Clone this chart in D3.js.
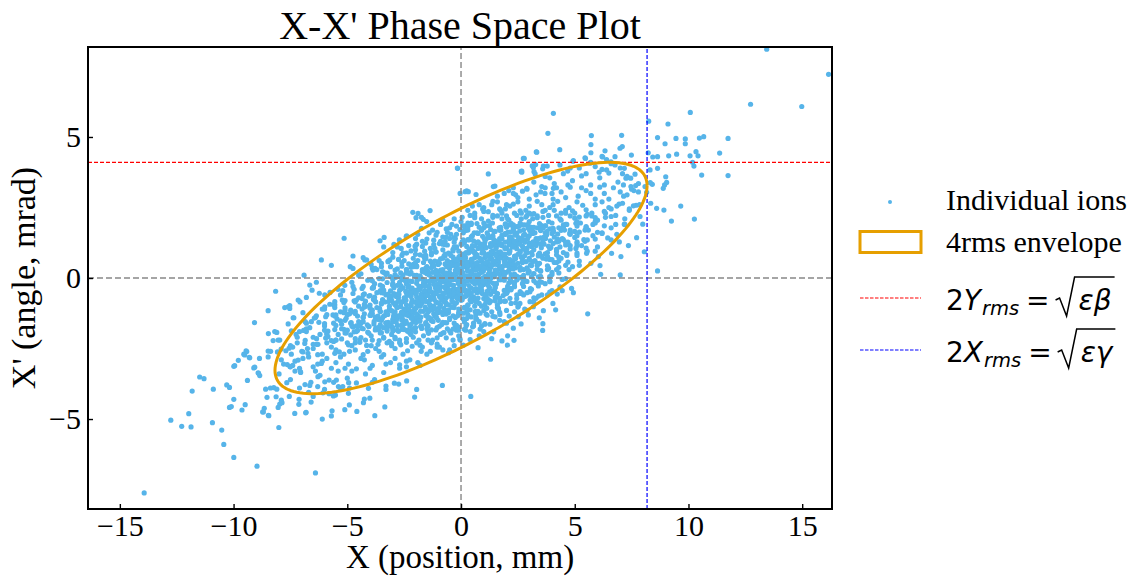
<!DOCTYPE html>
<html>
<head>
<meta charset="utf-8">
<script src="https://cdn.jsdelivr.net/npm/d3@7"></script>
<style>
  body { margin: 0; background: #fff; }
  svg { display: block; }
</style>
</head>
<body>
<div id="chart"></div>
<script>
// axis ranges and ticks
const xDomain = [-16.4, 16.31]
const yDomain = [-8.19, 8.19]
const xTicks = [-15, -10, -5, 0, 5, 10, 15]
const yTicks = [-5, 0, 5]

// beam (twiss) parameters of the 4rms envelope
const emittance = 20.2
const alphaT = -1.326
const betaT = 3.312

// ions: sparse halo / edges
const edgeIons = [
  [-13.93,-7.62],[-12.76,-5.04],[-12.28,-5.26],[-11.87,-5.28],[-11.97,-4.81],[-11.82,-4.01],[-11.49,-3.51],[-11.30,-3.57],[-10.89,-3.94],[-10.93,-5.13],
  [-10.52,-5.39],[-10.43,-5.90],[-9.99,-6.36],[-8.97,-6.67],[-6.40,-6.91],[-10.30,-3.79],[-10.18,-3.88],[-9.99,-4.30],[-10.18,-4.59],[-10.10,-4.56],
  [-9.99,-3.13],[-9.79,-2.92],[-9.55,-2.70],[-9.45,-2.58],[-9.29,-2.83],[-9.39,-3.63],[-9.63,-4.68],[-9.49,-4.49],[-9.11,-3.19],[-9.08,-1.58],
  [-8.92,-3.36],[-8.85,-3.46],[-8.86,-2.85],[-8.48,-1.16],[-8.47,-1.97],[-8.48,-2.59],[-8.53,-4.23],[-8.59,-3.94],[-8.65,-4.62],[-8.69,-4.75],
  [-8.47,-4.87],[-8.38,-3.90],[-8.23,-3.89],[-8.13,-4.21],[-8.10,-3.94],[-8.01,-5.30],[-8.04,-4.59],[-7.97,-4.47],[-7.90,-4.33],[-8.26,-2.22],
  [-8.10,-1.93],[-7.97,-2.20],[-7.91,-2.52],[-7.75,-1.05],[-7.53,-0.98],[-7.60,-1.63],[-7.35,-1.41],[-7.46,-2.70],[-7.56,-2.49],[-7.64,-3.07],
  [-7.52,-3.14],[-7.66,-3.71],[-7.55,-4.20],[-7.31,-4.80],[-7.12,-4.30],[-7.13,-4.48],[-6.81,-4.76],[-7.25,-2.00],[-7.16,-2.91],[-6.95,-1.23],
  [-6.92,-1.86],[-7.06,-3.32],[-6.86,-3.78],[-6.65,-3.81],[-6.73,-2.67],[-6.87,-2.32],[-6.58,-1.55],[-6.36,-1.34],[-6.29,-2.35],[-6.14,-3.03],
  [-6.29,-3.50],[-5.99,-3.68],[-6.10,-5.00],[-5.70,-4.89],[-5.67,-4.71],[-5.85,-2.08],[-5.55,-2.67],[-5.48,-3.62],[-5.99,-1.02],[-5.63,-1.31],
  [-5.52,-4.15],[-5.11,-4.67],[-4.91,-4.50],[-4.58,-4.73],[-3.79,-4.88],[-3.35,-4.57],[-4.29,-4.42],[-4.25,-4.29],[-4.01,-4.26],[-4.07,-3.91],
  [-2.04,-4.22],[-1.95,-3.95],[-0.82,-3.81],[-2.74,-3.76],[-2.39,-3.65],[-6.83,-4.78],[-6.59,-4.40],[-7.87,-4.42],[-8.45,-4.88],[-8.72,-4.75],
  [-6.07,-4.07],[-5.61,-4.18],[-5.39,-3.85],[-4.95,-4.09],[-5.20,-3.85],[-3.30,-3.83],[-3.30,-3.95],[-2.93,-3.73],[-4.94,-3.71],
  [13.44,8.11],[16.16,7.22],[12.73,6.16],[14.98,6.08],[10.08,5.87],[4.06,5.84],[3.82,5.13],[5.73,5.05],[7.06,5.06],[8.25,5.56],
  [9.10,5.46],[8.64,4.98],[9.45,4.95],[9.86,4.93],[9.86,4.76],[10.48,4.96],[10.67,5.01],[11.74,4.95],[8.97,4.76],[5.71,4.73],
  [6.33,4.51],[5.71,4.44],[6.99,4.60],[7.09,4.66],[4.34,4.55],[3.31,4.47],[2.78,4.24],[5.45,4.26],[6.23,4.29],[6.77,4.30],
  [7.49,4.36],[8.23,4.44],[8.43,4.29],[8.64,4.30],[9.13,4.33],[9.48,4.39],[10.07,4.33],[10.33,4.48],[10.42,4.33],[10.18,4.10],
  [10.24,3.97],[11.37,4.43],[10.58,3.65],[11.74,3.63],[4.92,4.14],[-0.16,3.90],[1.20,3.69],[1.49,3.26],[-0.04,3.00],[0.25,3.09],
  [8.31,3.83],[8.64,3.89],[9.00,3.59],[9.04,3.39],[8.95,3.30],[8.89,3.18],[8.41,3.32],[8.32,3.38],[2.65,3.78],[3.28,4.02],
  [3.62,3.97],[0.66,2.96],[8.16,3.04],[8.34,2.65],[8.60,2.47],[8.92,2.41],[9.66,2.55],[9.25,2.02],[10.26,2.09],[8.64,0.25],
  [8.06,0.93],[7.99,1.91],[7.72,1.43],[7.36,1.15],[7.03,0.76],[7.00,0.11],[6.14,0.13],[6.96,1.28],[6.62,0.87],[6.11,0.44],
  [5.71,0.52],[5.52,0.87],[6.04,0.76],[7.18,1.91],[7.87,2.18],[7.58,2.56],[7.85,2.60],[7.46,3.54],[7.65,3.68],[7.25,3.54],
  [7.14,3.30],[7.47,3.24],[7.68,3.28],[8.09,3.24],[4.94,4.16],[5.47,4.24],[6.20,4.31],[1.42,3.24],[2.67,3.79],[3.13,3.98],
  [3.21,3.77],[3.59,3.87],[3.79,3.97],[4.69,3.79],[4.35,4.01],[5.67,4.07],[6.40,3.83],[6.07,3.75],[6.59,4.12],[6.77,4.01],
  [7.18,3.89],[7.33,3.56],
  [0.43,-4.20],[1.30,-2.88],[0.75,-2.47],[2.04,-2.38],[1.80,-2.23],[2.33,-2.21],[2.05,-2.05],[1.35,-2.15],[1.44,-1.91],[2.30,-1.78],
  [2.64,-1.63],[3.59,-1.86],[3.60,-1.62],[3.44,-1.41],[5.57,-1.27],[4.16,-1.13],[4.04,-0.90],[3.62,-1.16],[2.96,-1.31],[2.52,-1.37],
  [2.12,-1.35],[1.71,-1.29],[0.22,-1.70],[0.51,-1.73],[0.84,-1.81],[1.05,-1.64],[1.27,-1.64],[0.10,-2.38],[-0.04,-2.20],[4.94,-0.52],
  [4.86,-0.37],[4.45,-0.45],[4.23,-0.57],[4.35,-0.31],[3.30,-0.72],[3.41,-0.64],[3.18,-1.02],[3.03,-0.84],[2.59,-0.90],[2.52,-0.99],
  [2.15,-0.72],[1.71,-0.84],[1.64,-1.07],[1.13,-1.07],[0.84,-1.25],[0.62,-1.19],[0.69,-1.46],[0.10,-1.25],[3.03,-0.49],[2.67,-0.54],
  [2.15,-0.37],[2.01,-0.54],[1.49,-0.49],[1.13,-0.72],[0.40,-0.78],[0.25,-0.54],[0.91,-0.43],[1.42,-0.19],[2.74,-0.13],[3.47,-0.13],
  [3.91,-0.13],
  [-5.14,1.41],[-6.14,0.64],[-5.70,0.45],[-6.90,0.10],[-8.15,-0.47],[-7.60,-1.02],[-7.53,-1.08],[-7.16,-0.78],[-7.08,-0.85],[-7.38,-1.41],
  [-7.46,-1.87],[-8.19,-1.90],[-8.04,-2.20],[-9.42,-2.61],[-9.51,-2.73],[-9.31,-2.81],[-9.95,-3.11],[-9.07,-3.16],[-8.90,-3.38],[-8.48,-2.80],
  [-8.37,-2.60],[-8.07,-2.62],[-4.75,0.78],[-4.87,0.40],[-4.75,0.34],[-6.65,-0.25],[-6.36,-0.15],[-6.55,-0.43],[-6.23,-0.54],[-5.99,-0.60],
  [-5.76,-0.51],[-5.41,-0.40],[-5.11,-0.26],[-6.80,-0.69],[-5.77,-0.93],[-5.55,-0.84],[-5.22,-0.78],[-4.23,0.64],[-3.87,0.28],[-3.50,0.40],
  [-3.21,0.58],[-3.56,1.32],[-3.38,1.44],[-2.95,1.19],[-2.63,1.05],[-2.41,1.47],[-1.89,2.29],[-1.74,2.15],[-1.36,2.39],[-1.74,1.76],
  [-2.55,0.88],[-3.13,0.64],
  [-0.15,3.89],[0.18,3.06],[0.32,3.06],[-2.12,2.33],[-1.98,2.14],[-1.66,2.08],[-1.51,2.00],[-2.71,1.35],[-2.39,1.49],[-2.02,1.13],
  [-4.15,0.64],[-3.78,0.34],[2.74,4.24],[3.33,4.46],[2.67,3.75],[3.18,3.92],[3.26,3.69],[2.30,3.00],[2.89,3.18],[3.55,3.24],
  [3.69,3.00],[4.06,3.18]
]

// ions in the core (estimated band by band)
const coreIons = [
  // x' ~ 0
  [-4.5,0.1],[-3.8,-0.2],[-3.1,0.05],[-2.7,-0.15],[-2.2,0.2],[-1.9,-0.05],[-1.5,0.15],[-1.2,-0.22],[-0.8,0.0],[-0.5,0.18],
  [-0.1,-0.12],[0.2,0.08],[0.6,-0.2],[0.9,0.22],[1.3,-0.03],[1.7,0.12],[2.1,-0.18],[2.6,0.02],[3.2,0.16],[3.9,-0.1],
  [-4.1,-0.08],[-3.4,0.2],[-2.9,0.12],[-2.4,-0.21],[-2.0,0.06],[-1.7,0.23],[-1.35,-0.1],[-1.0,0.12],[-0.65,-0.17],[-0.3,0.04],
  [0.05,0.21],[0.4,-0.07],[0.75,0.1],[1.1,-0.14],[1.5,0.2],[1.9,-0.01],[2.35,0.14],[2.9,-0.12],[3.5,0.06],[4.3,0.18],
  [-3.6,-0.02],[-3.0,-0.24],[-2.55,0.1],[-2.15,-0.12],[-1.8,0.03],[-1.45,0.24],[-1.1,0.07],[-0.85,-0.12],[-0.45,-0.24],[-0.2,0.15],
  [0.1,-0.18],[0.45,0.17],[0.8,-0.04],[1.2,0.14],[1.55,-0.2],[2.0,0.2],[2.45,-0.07],[3.0,0.23],[3.7,-0.2],[4.6,-0.02],
  [-4.8,-0.15],[-3.25,0.17],[-2.6,-0.05],[-2.25,0.14],[-1.6,-0.16],[-1.25,0.2],[-0.95,-0.06],[-0.6,0.1],[-0.35,-0.03],[0.0,-0.07],
  [0.3,0.24],[0.65,0.0],[1.0,-0.23],[1.4,0.08],[1.8,0.21],[2.2,-0.11],[2.75,0.09],[3.3,-0.17],[4.0,0.12],[0.5,-0.13],
  [-2.9,0.02],[-2.45,-0.1],[-2.05,0.09],[-1.7,-0.04],[-1.4,0.11],[-1.15,-0.08],[-0.9,0.05],[-0.7,-0.13],[-0.45,0.07],[-0.25,-0.05],
  [0.0,0.12],[0.2,-0.1],[0.4,0.03],[0.62,0.1],[0.85,-0.08],[1.05,0.06],[1.25,-0.12],[1.45,0.04],[1.68,-0.06],[1.9,0.1],
  [2.15,-0.03],[2.45,0.07],[2.8,-0.09],[-0.55,0.0],[0.95,0.0],
  // x' ~ 0.25
  [-3.3,0.12],[-2.8,0.32],[-2.4,0.2],[-2.1,0.4],[-1.8,0.08],[-1.55,0.28],[-1.3,0.36],[-1.1,0.15],[-0.9,0.24],[-0.7,0.05],
  [-0.5,0.38],[-0.32,0.12],[-0.15,0.32],[0.02,0.2],[0.2,0.4],[0.35,0.08],[0.5,0.28],[0.65,0.36],[0.8,0.15],[0.98,0.24],
  [1.15,0.05],[1.32,0.38],[1.5,0.12],[1.7,0.32],[1.9,0.2],[2.12,0.4],[2.35,0.08],[2.6,0.28],[2.9,0.36],[3.2,0.15],
  [3.5,0.24],[3.9,0.05],[4.3,0.38],[-0.2,0.22],[0.9,0.3],
  // x' ~ -0.25
  [3.2,-0.1],[2.75,-0.3],[2.35,-0.18],[2.05,-0.38],[1.75,-0.06],[1.5,-0.26],[1.25,-0.34],[1.05,-0.13],[0.85,-0.22],[0.65,-0.04],
  [0.45,-0.36],[0.28,-0.1],[0.1,-0.3],[-0.06,-0.18],[-0.24,-0.4],[-0.4,-0.07],[-0.55,-0.26],[-0.7,-0.35],[-0.86,-0.14],[-1.02,-0.22],
  [-1.2,-0.06],[-1.38,-0.37],[-1.55,-0.11],[-1.75,-0.3],[-1.95,-0.19],[-2.18,-0.39],[-2.4,-0.09],[-2.65,-0.27],[-2.95,-0.35],[-3.25,-0.16],
  [-3.55,-0.25],[-3.95,-0.06],[-4.35,-0.37],[0.15,-0.23],[-0.95,-0.32],
  // x' ~ 0.5
  [-3.9,0.35],[-3.2,0.6],[-2.6,0.42],[-2.1,0.7],[-1.7,0.3],[-1.3,0.55],[-0.9,0.68],[-0.5,0.33],[-0.15,0.5],[0.2,0.72],
  [0.55,0.38],[0.9,0.6],[1.25,0.27],[1.6,0.47],[2.0,0.7],[2.4,0.36],[2.85,0.58],[3.35,0.31],[3.9,0.66],[4.6,0.45],
  [-3.5,0.52],[-2.9,0.28],[-2.3,0.5],[-1.9,0.62],[-1.5,0.4],[-1.1,0.27],[-0.7,0.5],[-0.35,0.74],[0.0,0.3],[0.35,0.55],
  [0.7,0.45],[1.05,0.73],[1.4,0.55],[1.8,0.32],[2.2,0.57],[2.65,0.74],[3.1,0.44],[3.6,0.7],[4.2,0.3],[5.2,0.6],
  [-4.3,0.72],[-2.75,0.66],[-2.4,0.3],[-1.95,0.4],[-1.55,0.73],[-1.2,0.42],[-0.8,0.3],[-0.45,0.55],[-0.05,0.64],[0.3,0.4],
  [0.65,0.28],[1.0,0.5],[1.35,0.68],[1.7,0.37],[2.1,0.27],[2.5,0.52],[3.0,0.7],[3.5,0.26],[4.1,0.55],[4.9,0.4],
  [-3.7,0.3],[-3.0,0.74],[-1.35,0.6],[-1.0,0.48],[-0.6,0.62],[-0.25,0.27],[0.1,0.48],[0.45,0.66],[0.8,0.33],[1.15,0.4],
  [1.5,0.27],[1.9,0.62],[2.3,0.44],[2.75,0.3],[3.25,0.62],[3.8,0.43],[4.4,0.7],[0.15,0.6],
  [-2.1,0.48],[-1.65,0.55],[-1.25,0.45],[-0.95,0.52],[-0.65,0.44],[-0.4,0.56],[-0.15,0.46],[0.05,0.54],[0.28,0.47],[0.5,0.51],
  [0.72,0.55],[0.95,0.45],[1.18,0.53],[1.42,0.48],[1.65,0.56],[1.88,0.44],[2.1,0.51],[2.38,0.47],[2.7,0.55],[3.05,0.46],
  [3.45,0.52],[0.6,0.5],[1.55,0.5],[-0.3,0.5],[2.25,0.5],
  // x' ~ -0.5
  [-4.7,-0.4],[-4.0,-0.62],[-3.45,-0.3],[-2.95,-0.55],[-2.5,-0.7],[-2.15,-0.36],[-1.75,-0.58],[-1.4,-0.28],[-1.05,-0.48],[-0.7,-0.71],
  [-0.35,-0.4],[0.0,-0.6],[0.35,-0.27],[0.7,-0.52],[1.1,-0.66],[1.5,-0.34],[1.95,-0.5],[2.45,-0.73],[3.05,-0.38],[3.8,-0.6],
  [-5.3,-0.6],[-4.3,-0.3],[-3.7,-0.52],[-3.15,-0.72],[-2.7,-0.43],[-2.3,-0.27],[-1.95,-0.67],[-1.6,-0.45],[-1.2,-0.7],[-0.9,-0.31],
  [-0.5,-0.55],[-0.15,-0.74],[0.2,-0.45],[0.55,-0.67],[0.9,-0.3],[1.3,-0.58],[1.7,-0.72],[2.2,-0.42],[2.75,-0.6],[3.4,-0.28],
  [-4.5,-0.7],[-3.9,-0.36],[-3.3,-0.6],[-2.8,-0.26],[-2.4,-0.53],[-2.0,-0.44],[-1.65,-0.74],[-1.3,-0.5],[-0.95,-0.63],[-0.6,-0.29],
  [-0.25,-0.5],[0.1,-0.33],[0.45,-0.7],[0.8,-0.42],[1.2,-0.27],[1.6,-0.56],[2.05,-0.3],[2.6,-0.48],[3.2,-0.7],[4.0,-0.45],
  [-3.55,-0.45],[-2.85,-0.66],[-2.2,-0.6],[-1.85,-0.3],[-1.5,-0.62],[-1.1,-0.38],[-0.8,-0.56],[-0.4,-0.68],[-0.05,-0.28],[0.3,-0.58],
  [0.65,-0.38],[1.0,-0.73],[1.4,-0.46],[1.85,-0.62],[2.35,-0.28],[2.9,-0.52],[-0.6,-0.45],[-2.55,-0.35],
  [2.05,-0.48],[1.6,-0.55],[1.2,-0.45],[0.9,-0.52],[0.6,-0.44],[0.35,-0.56],[0.1,-0.46],[-0.1,-0.54],[-0.33,-0.47],[-0.55,-0.51],
  [-0.77,-0.55],[-1.0,-0.45],[-1.23,-0.53],[-1.47,-0.48],[-1.7,-0.56],[-1.93,-0.44],[-2.15,-0.51],[-2.43,-0.47],[-2.75,-0.55],[-3.1,-0.46],
  [-3.5,-0.52],[-0.65,-0.5],[-1.6,-0.5],[0.25,-0.5],[-2.3,-0.5],
  // x' ~ 0.75
  [-2.5,0.62],[-2.0,0.84],[-1.6,0.7],[-1.3,0.9],[-1.0,0.58],[-0.75,0.78],[-0.5,0.86],[-0.3,0.65],[-0.1,0.74],[0.1,0.56],
  [0.3,0.88],[0.48,0.62],[0.65,0.84],[0.82,0.7],[1.0,0.9],[1.15,0.58],[1.3,0.78],[1.45,0.86],[1.6,0.65],[1.78,0.74],
  [1.95,0.56],[2.12,0.88],[2.3,0.62],[2.5,0.84],[2.7,0.7],[2.92,0.9],[3.15,0.58],[3.4,0.78],[3.7,0.86],[4.0,0.65],
  [4.3,0.74],[4.7,0.56],[5.1,0.88],[0.6,0.72],[1.7,0.8],
  // x' ~ -0.75
  [2.45,-0.6],[1.95,-0.82],[1.55,-0.68],[1.25,-0.88],[0.95,-0.56],[0.7,-0.76],[0.45,-0.84],[0.25,-0.63],[0.05,-0.72],[-0.15,-0.54],
  [-0.35,-0.86],[-0.52,-0.6],[-0.7,-0.82],[-0.86,-0.68],[-1.04,-0.88],[-1.2,-0.57],[-1.35,-0.76],[-1.5,-0.84],[-1.65,-0.64],[-1.82,-0.73],
  [-2.0,-0.55],[-2.17,-0.87],[-2.35,-0.61],[-2.55,-0.83],[-2.75,-0.69],[-2.97,-0.89],[-3.2,-0.57],[-3.45,-0.77],[-3.75,-0.85],[-4.05,-0.64],
  [-4.35,-0.73],[-4.75,-0.55],[-5.15,-0.87],[-0.65,-0.7],[-1.75,-0.79],
  // x' ~ 1
  [-3.0,0.9],[-2.3,1.15],[-1.8,0.82],[-1.35,1.05],[-0.95,1.22],[-0.55,0.88],[-0.2,1.1],[0.15,0.78],[0.5,1.0],[0.85,1.2],
  [1.2,0.85],[1.55,1.08],[1.9,0.8],[2.25,1.17],[2.6,0.95],[3.0,1.24],[3.4,0.83],[3.9,1.05],[4.5,0.9],[5.3,1.15],
  [-2.6,0.8],[-2.0,1.0],[-1.55,1.24],[-1.1,0.92],[-0.7,0.78],[-0.35,1.02],[0.0,1.2],[0.35,0.9],[0.7,0.77],[1.05,1.13],
  [1.4,0.95],[1.75,1.22],[2.1,0.88],[2.45,1.04],[2.8,0.79],[3.2,1.0],[3.65,1.2],[4.2,0.82],[4.8,1.03],[5.9,0.95],
  [-2.2,0.96],[-1.65,0.78],[-1.2,1.18],[-0.8,1.0],[-0.45,0.8],[-0.1,0.95],[0.25,1.12],[0.6,0.87],[0.95,0.97],[1.3,1.22],
  [1.65,0.9],[2.0,1.05],[2.35,0.77],[2.7,1.13],[3.1,0.9],[3.55,0.77],[4.05,1.22],[4.7,1.2],[5.1,0.8],[1.8,1.15],
  [-3.4,1.1],[-1.95,1.2],[-0.6,1.17],[0.1,0.85],[0.75,1.05],[1.1,0.8],[1.5,1.15],[2.2,1.2],[2.9,1.05],[3.3,1.15],
  [3.8,0.9],[4.35,1.1],
  // x' ~ -1
  [-5.6,-0.95],[-4.8,-1.2],[-4.2,-0.82],[-3.7,-1.05],[-3.25,-1.22],[-2.85,-0.88],[-2.5,-1.1],[-2.15,-0.78],[-1.8,-1.0],[-1.45,-1.2],
  [-1.1,-0.85],[-0.75,-1.08],[-0.4,-0.8],[-0.05,-1.17],[0.3,-0.95],[0.7,-1.24],[1.1,-0.83],[1.6,-1.05],[2.2,-0.9],[2.9,-1.15],
  [-6.1,-1.1],[-5.1,-0.8],[-4.5,-1.0],[-3.95,-1.24],[-3.5,-0.92],[-3.05,-0.78],[-2.65,-1.02],[-2.3,-1.2],[-1.95,-0.9],[-1.6,-0.77],
  [-1.25,-1.13],[-0.9,-0.95],[-0.55,-1.22],[-0.2,-0.88],[0.15,-1.04],[0.5,-0.79],[0.9,-1.0],[1.35,-1.2],[1.9,-0.82],[2.5,-1.03],
  [-5.3,-1.2],[-4.6,-0.78],[-4.0,-0.96],[-3.55,-1.18],[-3.15,-1.0],[-2.75,-0.8],[-2.4,-0.95],[-2.05,-1.12],[-1.7,-0.87],[-1.35,-0.97],
  [-1.0,-1.22],[-0.65,-0.9],[-0.3,-1.05],[0.05,-0.77],[0.4,-1.13],[0.8,-0.9],[1.2,-0.77],[1.7,-1.22],[2.35,-1.2],[3.2,-0.85],
  [-4.35,-1.1],[-3.35,-0.85],[-2.2,-0.98],[-1.5,-1.1],[-0.85,-0.78],[-0.1,-1.1],[0.6,-1.0],[1.0,-1.15],[-2.9,-1.2],[-3.8,-0.8],
  [-1.2,-1.0],[0.25,-1.2],
  // x' ~ 1.25
  [-1.7,1.12],[-1.2,1.34],[-0.8,1.2],[-0.5,1.4],[-0.2,1.08],[0.05,1.28],[0.3,1.36],[0.5,1.15],[0.7,1.24],[0.9,1.06],
  [1.1,1.38],[1.28,1.12],[1.45,1.34],[1.62,1.2],[1.8,1.4],[1.95,1.08],[2.1,1.28],[2.25,1.36],[2.4,1.15],[2.58,1.24],
  [2.75,1.06],[2.92,1.38],[3.1,1.12],[3.3,1.34],[3.5,1.2],[3.72,1.4],[3.95,1.08],[4.2,1.28],[4.5,1.36],[4.8,1.15],
  [5.1,1.24],[5.5,1.06],[5.9,1.38],[1.4,1.22],[2.5,1.3],
  // x' ~ -1.25
  [1.65,-1.1],[1.15,-1.32],[0.75,-1.18],[0.45,-1.38],[0.15,-1.06],[-0.1,-1.26],[-0.35,-1.34],[-0.55,-1.13],[-0.75,-1.22],[-0.95,-1.05],
  [-1.15,-1.36],[-1.32,-1.1],[-1.5,-1.32],[-1.66,-1.18],[-1.84,-1.38],[-2.0,-1.07],[-2.15,-1.26],[-2.3,-1.34],[-2.45,-1.14],[-2.62,-1.23],
  [-2.8,-1.05],[-2.97,-1.37],[-3.15,-1.11],[-3.35,-1.33],[-3.55,-1.19],[-3.77,-1.39],[-4.0,-1.07],[-4.25,-1.27],[-4.55,-1.35],[-4.85,-1.14],
  [-5.15,-1.23],[-5.55,-1.05],[-5.95,-1.37],[-1.45,-1.2],[-2.55,-1.29],
  // x' ~ 1.5
  [-2.0,1.4],[-1.4,1.6],[-0.9,1.3],[-0.45,1.55],[-0.05,1.72],[0.35,1.35],[0.7,1.6],[1.05,1.28],[1.4,1.5],[1.75,1.7],
  [2.1,1.32],[2.45,1.58],[2.8,1.27],[3.15,1.65],[3.5,1.42],[3.9,1.74],[4.3,1.3],[4.8,1.55],[5.4,1.36],[6.2,1.6],
  [-1.7,1.3],[-1.1,1.52],[-0.65,1.74],[-0.25,1.4],[0.15,1.26],[0.5,1.5],[0.9,1.7],[1.25,1.44],[1.6,1.27],[1.95,1.55],
  [2.3,1.73],[2.65,1.4],[3.0,1.5],[3.35,1.28],[3.7,1.6],[4.1,1.45],[4.55,1.7],[5.1,1.28],[5.8,1.5],[6.6,1.35],
  [-1.25,1.7],[-0.8,1.45],[-0.3,1.27],[0.1,1.6],[0.55,1.32],[0.95,1.48],[1.3,1.72],[1.7,1.4],[2.05,1.62],[2.4,1.3],
  [2.75,1.52],[3.1,1.7],[3.6,1.3],[4.0,1.58],[4.45,1.4],[5.0,1.65],[5.6,1.7],[2.2,1.45],[1.15,1.6],[0.3,1.7],
  [3.3,1.4],[4.7,1.27],
  // x' ~ -1.5
  [-6.4,-1.4],[-5.6,-1.6],[-5.0,-1.3],[-4.5,-1.55],[-4.05,-1.72],[-3.65,-1.35],[-3.3,-1.6],[-2.95,-1.28],[-2.6,-1.5],[-2.25,-1.7],
  [-1.9,-1.32],[-1.55,-1.58],[-1.2,-1.27],[-0.85,-1.65],[-0.5,-1.42],[-0.1,-1.74],[0.3,-1.3],[0.8,-1.55],[1.4,-1.36],[2.0,-1.6],
  [-6.8,-1.6],[-5.9,-1.3],[-5.3,-1.52],[-4.75,-1.74],[-4.3,-1.4],[-3.9,-1.26],[-3.5,-1.5],[-3.15,-1.7],[-2.8,-1.44],[-2.45,-1.27],
  [-2.1,-1.55],[-1.75,-1.73],[-1.4,-1.4],[-1.0,-1.5],[-0.65,-1.28],[-0.3,-1.6],[0.1,-1.45],[0.55,-1.7],[1.1,-1.28],[1.7,-1.5],
  [-6.0,-1.7],[-5.45,-1.45],[-4.9,-1.27],[-4.4,-1.6],[-4.0,-1.32],[-3.6,-1.48],[-3.25,-1.72],[-2.85,-1.4],[-2.5,-1.62],[-2.15,-1.3],
  [-1.8,-1.52],[-1.45,-1.7],[-1.1,-1.3],[-0.7,-1.58],[-0.25,-1.4],[0.25,-1.65],[0.9,-1.7],[-3.0,-1.55],[-2.0,-1.42],[-4.6,-1.7],
  [-3.4,-1.35],[-1.3,-1.52],
  // x' ~ 1.75
  [-0.6,1.62],[-0.2,1.84],[0.15,1.7],[0.45,1.9],[0.75,1.58],[1.0,1.78],[1.25,1.86],[1.5,1.65],[1.72,1.74],[1.95,1.56],
  [2.15,1.88],[2.35,1.62],[2.55,1.84],[2.75,1.7],[2.95,1.9],[3.15,1.58],[3.35,1.78],[3.55,1.86],[3.78,1.65],[4.0,1.74],
  [4.25,1.56],[4.5,1.88],[4.8,1.62],[5.1,1.84],[5.45,1.7],[5.8,1.9],[6.2,1.58],[6.6,1.78],[2.0,1.8],[3.5,1.68],
  // x' ~ -1.75
  [0.55,-1.6],[0.15,-1.82],[-0.2,-1.68],[-0.5,-1.88],[-0.8,-1.57],[-1.05,-1.76],[-1.3,-1.84],[-1.55,-1.63],[-1.77,-1.72],[-2.0,-1.55],
  [-2.2,-1.86],[-2.4,-1.6],[-2.6,-1.82],[-2.8,-1.68],[-3.0,-1.88],[-3.2,-1.57],[-3.4,-1.76],[-3.6,-1.84],[-3.83,-1.63],[-4.05,-1.72],
  [-4.3,-1.55],[-4.55,-1.86],[-4.85,-1.6],[-5.15,-1.82],[-5.5,-1.68],[-5.85,-1.88],[-6.25,-1.57],[-6.65,-1.76],[-2.05,-1.78],[-3.55,-1.66],
  // x' ~ 2
  [-0.9,1.9],[-0.3,2.1],[0.2,1.85],[0.6,2.2],[1.0,1.95],[1.4,2.15],[1.75,1.8],[2.1,2.05],[2.45,2.22],[2.8,1.88],
  [3.15,2.1],[3.5,1.78],[3.85,2.0],[4.2,2.2],[4.6,1.9],[5.0,2.12],[5.5,1.8],[6.0,2.05],[6.6,2.18],[7.2,1.9],
  [-0.5,1.78],[0.0,2.0],[0.4,2.22],[0.8,1.8],[1.2,2.02],[1.6,2.2],[1.95,1.92],[2.3,1.78],[2.65,2.1],[3.0,2.0],
  [3.35,2.2],[3.7,1.85],[4.05,1.76],[4.4,2.05],[4.8,2.2],[5.25,1.95],[5.75,2.2],[6.3,1.85],[1.8,2.1],[3.1,1.8],
  [0.3,1.95],[1.1,1.85],[2.0,2.2],[2.6,1.95],[3.6,2.15],[4.5,1.8],[5.1,2.0],[5.9,1.95],[0.9,2.1],[2.9,2.22],
  // x' ~ -2
  [-7.1,-1.9],[-6.5,-2.1],[-6.0,-1.85],[-5.5,-2.2],[-5.05,-1.95],[-4.65,-2.15],[-4.3,-1.8],[-3.95,-2.05],[-3.6,-2.22],[-3.25,-1.88],
  [-2.9,-2.1],[-2.55,-1.78],[-2.2,-2.0],[-1.85,-2.2],[-1.45,-1.9],[-1.05,-2.12],[-0.6,-1.8],[-0.1,-2.05],[0.4,-2.18],[1.0,-1.9],
  [-6.8,-1.8],[-6.2,-2.0],[-5.7,-2.22],[-5.25,-1.8],[-4.85,-2.02],[-4.45,-2.2],[-4.1,-1.92],[-3.75,-1.78],[-3.4,-2.1],[-3.05,-2.0],
  [-2.7,-2.2],[-2.35,-1.85],[-2.0,-1.76],[-1.65,-2.05],[-1.25,-2.2],[-0.8,-1.95],[-0.35,-2.2],[0.2,-1.85],[-3.0,-1.8],[-4.6,-1.9],
  [-5.9,-1.95],[-5.0,-1.85],[-4.2,-2.2],[-3.55,-1.95],[-2.4,-2.15],[-1.5,-1.8],[-0.9,-2.0],[-0.2,-1.85],[-5.4,-2.0],[-2.8,-1.85],
  // x' ~ 2.25
  [0.6,2.14],[1.0,2.36],[1.4,2.22],[1.75,2.4],[2.05,2.1],[2.35,2.3],[2.6,2.38],[2.85,2.16],[3.1,2.26],[3.35,2.14],
  [3.6,2.36],[3.85,2.22],[4.1,2.4],[4.35,2.1],[4.6,2.3],[4.9,2.38],[5.2,2.16],[5.55,2.26],[5.9,2.14],[6.3,2.36],
  [6.8,2.22],[3.0,2.3],
  // x' ~ -2.25
  [-0.65,-2.12],[-1.05,-2.34],[-1.45,-2.2],[-1.8,-2.38],[-2.1,-2.1],[-2.4,-2.28],[-2.65,-2.37],[-2.9,-2.15],[-3.15,-2.25],[-3.4,-2.13],
  [-3.65,-2.35],[-3.9,-2.2],[-4.15,-2.39],[-4.4,-2.11],[-4.65,-2.3],[-4.95,-2.37],[-5.25,-2.16],[-5.6,-2.25],[-5.95,-2.13],[-6.35,-2.35],
  [-6.85,-2.21],[-3.05,-2.32],
  // x' ~ 2.5
  [0.3,2.4],[0.8,2.6],[1.2,2.35],[1.6,2.7],[1.95,2.45],[2.3,2.62],[2.65,2.3],[3.0,2.55],[3.35,2.72],[3.7,2.4],
  [4.05,2.6],[4.4,2.3],[4.75,2.5],[5.1,2.7],[5.5,2.42],[5.9,2.6],[6.35,2.3],[6.85,2.55],[7.4,2.4],
  [0.6,2.3],[1.0,2.5],[1.4,2.72],[1.8,2.3],[2.15,2.55],[2.5,2.7],[2.85,2.4],[3.2,2.28],[3.55,2.6],[3.9,2.5],
  [4.25,2.72],[4.6,2.4],[5.0,2.3],[5.35,2.58],[5.75,2.3],[6.2,2.7],[6.6,2.45],[7.1,2.65],[2.0,2.6],
  // x' ~ -2.5
  [-7.5,-2.4],[-7.0,-2.6],[-6.5,-2.35],[-6.1,-2.7],[-5.7,-2.45],[-5.35,-2.62],[-5.0,-2.3],[-4.65,-2.55],[-4.3,-2.72],[-3.95,-2.4],
  [-3.6,-2.6],[-3.25,-2.3],[-2.9,-2.5],[-2.55,-2.7],[-2.15,-2.42],[-1.75,-2.6],[-1.3,-2.3],[-0.8,-2.55],[-0.3,-2.4],
  [-7.2,-2.3],[-6.75,-2.5],[-6.3,-2.72],[-5.9,-2.3],[-5.5,-2.55],[-5.15,-2.7],[-4.8,-2.4],[-4.45,-2.28],[-4.1,-2.6],[-3.75,-2.5],
  [-3.4,-2.72],[-3.05,-2.4],[-2.7,-2.3],[-2.35,-2.58],[-1.95,-2.3],[-1.5,-2.7],[-1.05,-2.45],[-0.55,-2.65],[-4.9,-2.6],
  // x' ~ 3
  [1.6,2.9],[2.1,3.1],[2.5,2.85],[2.9,3.15],[3.3,2.95],[3.7,3.2],[4.05,2.8],[4.4,3.05],[4.8,3.22],[5.15,2.9],
  [5.5,3.1],[5.9,2.8],[6.3,3.0],[6.7,3.2],[7.15,2.9],[7.6,3.1],[2.3,3.2],[3.0,2.8],[3.5,3.05],[4.2,3.2],
  [4.6,2.85],[5.3,3.2],[5.7,3.0],[6.1,3.22],[6.5,2.8],[7.0,3.05],[4.0,3.0],
  // x' ~ -3
  [-7.9,-2.9],[-7.4,-3.1],[-6.95,-2.85],[-6.5,-3.15],[-6.1,-2.95],[-5.7,-3.2],[-5.3,-2.8],[-4.95,-3.05],[-4.6,-3.22],[-4.25,-2.9],
  [-3.9,-3.1],[-3.5,-2.8],[-3.1,-3.0],[-2.7,-3.2],[-2.25,-2.9],[-1.8,-3.1],[-7.1,-3.2],[-6.7,-2.8],[-6.3,-3.05],[-5.5,-3.0],
  [-5.1,-3.2],[-4.4,-2.85],[-4.0,-3.2],[-3.3,-3.05],[-2.9,-2.85],[-2.4,-3.15],[-5.9,-2.85],
  // x' ~ 3.5
  [3.2,3.4],[3.7,3.6],[4.1,3.35],[4.5,3.7],[4.9,3.45],[5.3,3.62],[5.7,3.3],[6.1,3.55],[6.5,3.72],[6.9,3.4],
  [7.3,3.6],[7.8,3.35],[3.9,3.55],[4.7,3.3],[5.5,3.7],[6.3,3.3],[7.1,3.7],
  // x' ~ -3.5
  [-8.0,-3.4],[-7.5,-3.6],[-7.05,-3.35],[-6.6,-3.7],[-6.2,-3.45],[-5.8,-3.62],[-5.4,-3.3],[-5.0,-3.55],[-4.6,-3.72],[-4.2,-3.4],
  [-3.8,-3.6],[-3.4,-3.35],[-7.3,-3.3],[-6.4,-3.3],[-5.6,-3.7],[-4.8,-3.3],[-3.9,-3.7],
  // x' ~ +-4
  [5.2,3.9],[5.7,4.1],[6.2,3.85],[6.6,4.05],[7.0,3.9],[5.9,3.95],[6.4,4.2],[4.8,3.9],
  [-5.3,-3.9],[-5.8,-4.1],[-6.3,-3.85],[-6.7,-4.05],[-7.1,-3.9],[-6.0,-3.95],[-6.5,-4.2],[-4.9,-3.9]
]

// ions filling the densest middle of the beam
const innerIons = [
  [-2.8,0.04],[-2.35,0.17],[-1.95,0.09],[-1.6,0.2],[-1.3,0.01],[-1.02,0.14],[-0.78,0.19],[-0.55,0.06],[-0.33,0.12],[-0.12,0.0],
  [0.08,0.18],[0.28,0.04],[0.48,0.17],[0.68,0.09],[0.9,0.2],[1.12,0.01],[1.35,0.14],[1.6,0.19],[1.88,0.06],[2.2,0.12],
  [2.55,0.0],[2.95,0.18],[3.4,0.04],[-0.65,0.17],[0.6,0.09],
  [2.75,-0.03],[2.3,-0.16],[1.9,-0.08],[1.55,-0.21],[1.25,-0.02],[0.97,-0.13],[0.73,-0.18],[0.5,-0.05],[0.28,-0.11],[0.07,0.01],
  [-0.13,-0.19],[-0.33,-0.03],[-0.53,-0.16],[-0.73,-0.08],[-0.95,-0.21],[-1.17,-0.02],[-1.4,-0.13],[-1.65,-0.18],[-1.93,-0.05],[-2.25,-0.11],
  [-2.6,0.01],[-3.0,-0.19],[-3.45,-0.03],[0.6,-0.16],[-0.65,-0.08],
  [-2.4,0.3],[-1.95,0.43],[-1.55,0.35],[-1.2,0.46],[-0.9,0.28],[-0.62,0.4],[-0.38,0.45],[-0.15,0.32],[0.07,0.38],[0.28,0.27],
  [0.48,0.44],[0.68,0.3],[0.88,0.43],[1.08,0.35],[1.3,0.46],[1.52,0.28],[1.75,0.4],[2.0,0.45],[2.28,0.32],[2.6,0.38],
  [2.95,0.27],[3.35,0.44],[3.8,0.3],[-0.25,0.43],[1.0,0.35],
  [2.35,-0.31],[1.9,-0.44],[1.5,-0.34],[1.15,-0.47],[0.85,-0.29],[0.57,-0.41],[0.33,-0.45],[0.1,-0.33],[-0.12,-0.39],[-0.33,-0.26],
  [-0.53,-0.43],[-0.73,-0.31],[-0.93,-0.44],[-1.13,-0.34],[-1.35,-0.47],[-1.57,-0.29],[-1.8,-0.41],[-2.05,-0.45],[-2.33,-0.33],[-2.65,-0.39],
  [-3.0,-0.26],[-3.4,-0.43],[-3.85,-0.31],[0.2,-0.44],[-1.05,-0.34],
  [-2.0,0.55],[-1.55,0.68],[-1.15,0.6],[-0.8,0.7],[-0.5,0.53],[-0.22,0.65],[0.02,0.69],[0.25,0.57],[0.47,0.63],[0.68,0.52],
  [0.88,0.67],[1.08,0.55],[1.28,0.68],[1.48,0.6],[1.7,0.7],[1.92,0.53],[2.15,0.65],[2.4,0.69],[2.68,0.57],[3.0,0.63],
  [3.35,0.52],[3.75,0.67],[4.2,0.55],[0.15,0.68],[1.4,0.6],
  [1.95,-0.56],[1.5,-0.69],[1.1,-0.59],[0.75,-0.71],[0.45,-0.54],[0.17,-0.66],[-0.07,-0.7],[-0.3,-0.58],[-0.52,-0.64],[-0.73,-0.53],
  [-0.93,-0.68],[-1.13,-0.56],[-1.33,-0.69],[-1.53,-0.59],[-1.75,-0.71],[-1.97,-0.54],[-2.2,-0.66],[-2.45,-0.7],[-2.73,-0.58],[-3.05,-0.64],
  [-3.4,-0.53],[-3.8,-0.68],[-4.25,-0.56],[-0.2,-0.69],[-1.45,-0.59],
  [-1.55,0.8],[-1.1,0.93],[-0.7,0.85],[-0.35,0.96],[-0.05,0.78],[0.22,0.9],[0.47,0.95],[0.7,0.82],[0.92,0.88],[1.13,0.77],
  [1.33,0.94],[1.53,0.8],[1.73,0.93],[1.93,0.85],[2.15,0.96],[2.37,0.78],[2.6,0.9],[2.85,0.95],[3.13,0.82],[3.45,0.88],
  [3.8,0.77],[4.2,0.94],[4.65,0.8],[0.6,0.93],[1.85,0.85],
  [1.5,-0.81],[1.05,-0.94],[0.65,-0.84],[0.3,-0.97],[0.0,-0.79],[-0.27,-0.91],[-0.52,-0.95],[-0.75,-0.83],[-0.97,-0.89],[-1.18,-0.76],
  [-1.38,-0.93],[-1.58,-0.81],[-1.78,-0.94],[-1.98,-0.84],[-2.2,-0.97],[-2.42,-0.79],[-2.65,-0.91],[-2.9,-0.95],[-3.18,-0.83],[-3.5,-0.89],
  [-3.85,-0.76],[-4.25,-0.93],[-4.7,-0.81],[-0.65,-0.94],[-1.9,-0.84],
  [-1.15,1.05],[-0.7,1.18],[-0.3,1.1],[0.05,1.2],[0.35,1.03],[0.62,1.15],[0.87,1.19],[1.1,1.07],[1.32,1.13],[1.53,1.02],
  [1.73,1.17],[1.93,1.05],[2.13,1.18],[2.33,1.1],[2.55,1.2],[2.77,1.03],[3.0,1.15],[3.25,1.19],[3.53,1.07],[3.85,1.13],
  [4.2,1.02],[4.6,1.17],[5.05,1.05],[1.0,1.18],[2.25,1.1],
  [1.1,-1.06],[0.65,-1.19],[0.25,-1.09],[-0.1,-1.21],[-0.4,-1.04],[-0.67,-1.16],[-0.92,-1.2],[-1.15,-1.08],[-1.37,-1.14],[-1.58,-1.03],
  [-1.78,-1.18],[-1.98,-1.06],[-2.18,-1.19],[-2.38,-1.09],[-2.6,-1.21],[-2.82,-1.04],[-3.05,-1.16],[-3.3,-1.2],[-3.58,-1.08],[-3.9,-1.14],
  [-4.25,-1.03],[-4.65,-1.18],[-5.1,-1.06],[-1.05,-1.19],[-2.3,-1.09],
  [-0.7,1.3],[-0.3,1.43],[0.1,1.35],[0.45,1.46],[0.75,1.28],[1.02,1.4],[1.27,1.45],[1.5,1.32],[1.72,1.38],[1.93,1.27],
  [2.13,1.44],[2.33,1.3],[2.53,1.43],[2.73,1.35],[2.95,1.46],[3.17,1.28],[3.4,1.4],[3.65,1.45],[3.93,1.32],[4.25,1.38],
  [4.6,1.27],[5.0,1.44],[5.45,1.3],[1.4,1.43],[2.65,1.35],
  [0.65,-1.31],[0.25,-1.44],[-0.15,-1.34],[-0.5,-1.47],[-0.8,-1.29],[-1.07,-1.41],[-1.32,-1.45],[-1.55,-1.33],[-1.77,-1.39],[-1.98,-1.26],
  [-2.18,-1.43],[-2.38,-1.31],[-2.58,-1.44],[-2.78,-1.34],[-3.0,-1.47],[-3.22,-1.29],[-3.45,-1.41],[-3.7,-1.45],[-3.98,-1.33],[-4.3,-1.39],
  [-4.65,-1.26],[-5.05,-1.43],[-5.5,-1.31],[-1.45,-1.44],[-2.7,-1.34],
  [-0.2,1.55],[0.2,1.68],[0.58,1.6],[0.9,1.7],[1.18,1.53],[1.45,1.65],[1.7,1.69],[1.93,1.57],[2.15,1.63],[2.37,1.52],
  [2.58,1.67],[2.8,1.55],[3.02,1.68],[3.25,1.6],[3.5,1.7],[3.77,1.53],[4.07,1.65],[4.4,1.69],[4.78,1.57],[5.2,1.63],
  [1.8,1.52],[3.1,1.67],
  [0.15,-1.56],[-0.25,-1.69],[-0.63,-1.59],[-0.95,-1.71],[-1.23,-1.54],[-1.5,-1.66],[-1.75,-1.7],[-1.98,-1.58],[-2.2,-1.64],[-2.42,-1.53],
  [-2.63,-1.68],[-2.85,-1.56],[-3.07,-1.69],[-3.3,-1.59],[-3.55,-1.71],[-3.82,-1.54],[-4.12,-1.66],[-4.45,-1.7],[-4.83,-1.58],[-5.25,-1.64],
  [-1.85,-1.53],[-3.15,-1.68],
  [0.3,1.8],[0.7,1.93],[1.05,1.85],[1.38,1.95],[1.68,1.78],[1.95,1.9],[2.2,1.94],[2.45,1.82],[2.7,1.88],[2.95,1.77],
  [3.2,1.8],[3.45,1.93],[3.72,1.85],[4.0,1.95],[4.3,1.78],[4.65,1.9],[5.05,1.94],[5.5,1.82],[2.3,1.88],[3.6,1.77],
  [-0.35,-1.81],[-0.75,-1.94],[-1.1,-1.84],[-1.43,-1.96],[-1.73,-1.79],[-2.0,-1.91],[-2.25,-1.95],[-2.5,-1.83],[-2.75,-1.89],[-3.0,-1.76],
  [-3.25,-1.81],[-3.5,-1.94],[-3.77,-1.84],[-4.05,-1.96],[-4.35,-1.79],[-4.7,-1.91],[-5.1,-1.95],[-5.55,-1.83],[-2.35,-1.89],[-3.65,-1.76]
]

// ions in the outer ring, between the dense middle and the envelope
const ringIons = [
  [-4.4,0.15],[-3.9,-0.1],[-3.45,0.22],[-3.0,-0.05],[-2.65,0.18],[2.7,-0.2],[3.1,0.05],[3.55,-0.15],[4.0,0.2],[4.45,-0.05],
  [-3.6,0.62],[-3.1,0.4],[-2.6,0.55],[-2.2,0.38],[3.4,0.5],[3.85,0.35],[4.3,0.6],[4.75,0.3],[5.2,0.45],[-3.95,0.48],
  [3.55,-0.6],[3.1,-0.4],[2.6,-0.55],[2.2,-0.38],[-3.4,-0.5],[-3.85,-0.35],[-4.3,-0.6],[-4.75,-0.3],[-5.2,-0.45],[3.9,-0.5],
  [-2.8,1.1],[-2.4,0.88],[-2.0,1.15],[-1.6,0.95],[4.2,1.0],[4.65,0.85],[5.1,1.15],[5.55,0.95],[6.0,1.1],[-1.3,0.82],
  [2.8,-1.1],[2.4,-0.88],[2.0,-1.15],[1.6,-0.95],[-4.2,-1.0],[-4.65,-0.85],[-5.1,-1.15],[-5.55,-0.95],[-6.0,-1.1],[1.3,-0.82],
  [-1.9,1.55],[-1.5,1.38],[-1.05,1.62],[-0.65,1.45],[5.1,1.5],[5.55,1.35],[6.0,1.62],[6.45,1.42],[6.85,1.55],[4.8,1.7],
  [1.9,-1.55],[1.5,-1.38],[1.05,-1.62],[0.65,-1.45],[-5.1,-1.5],[-5.55,-1.35],[-6.0,-1.62],[-6.45,-1.42],[-6.85,-1.55],[-4.8,-1.7],
  [-0.8,2.05],[-0.4,1.9],[0.05,2.15],[0.45,1.95],[5.9,2.0],[6.35,2.15],[6.8,1.9],[7.2,2.1],[5.5,2.2],[0.1,1.85],
  [0.8,-2.05],[0.4,-1.9],[-0.05,-2.15],[-0.45,-1.95],[-5.9,-2.0],[-6.35,-2.15],[-6.8,-1.9],[-7.2,-2.1],[-5.5,-2.2],[-0.1,-1.85],
  [0.5,2.55],[0.95,2.45],[1.35,2.6],[6.5,2.5],[6.95,2.62],[7.4,2.45],[7.7,2.58],[1.7,2.45],
  [-0.5,-2.55],[-0.95,-2.45],[-1.35,-2.6],[-6.5,-2.5],[-6.95,-2.62],[-7.4,-2.45],[-7.7,-2.58],[-1.7,-2.45],
  [1.9,3.0],[2.4,2.95],[7.3,2.95],[7.8,3.05],[2.7,3.08],[7.5,3.15],
  [-1.9,-3.0],[-2.4,-2.95],[-7.3,-2.95],[-7.8,-3.05],[-2.7,-3.08],[-7.5,-3.15]
]

const legendLabels = ['Individual ions', '4rms envelope']

// colours
const ionColor = '#56b4e9'
const envelopeColor = '#e69f00'

const width = 1135
const height = 580
const margin = { top: 47, right: 303, bottom: 71, left: 88 }

const svg = d3.select('#chart')
  .append('svg')
  .attr('width', width)
  .attr('height', height)

const x = d3.scaleLinear().domain(xDomain).range([margin.left, width - margin.right])
const y = d3.scaleLinear().domain(yDomain).range([height - margin.bottom, margin.top])

const serif = '"Liberation Serif", "Times New Roman", serif'
const sans = '"DejaVu Sans", sans-serif'

// clip to plot area
svg.append('clipPath').attr('id', 'plot-clip')
  .append('rect')
  .attr('x', x.range()[0]).attr('y', y.range()[1])
  .attr('width', x.range()[1] - x.range()[0])
  .attr('height', y.range()[0] - y.range()[1])

const plot = svg.append('g').attr('clip-path', 'url(#plot-clip)')

// scatter of ions
plot.append('g')
  .selectAll('circle')
  .data(coreIons.concat(innerIons, ringIons, edgeIons))
  .enter()
  .append('circle')
  .attr('cx', d => x(d[0]))
  .attr('cy', d => y(d[1]))
  .attr('r', 2.6)
  .attr('fill', ionColor)

// zero lines
plot.append('line')
  .attr('x1', x(0)).attr('x2', x(0))
  .attr('y1', y.range()[0]).attr('y2', y.range()[1])
  .attr('stroke', '#888').attr('stroke-width', 1.4).attr('stroke-dasharray', '6,3')
plot.append('line')
  .attr('x1', x.range()[0]).attr('x2', x.range()[1])
  .attr('y1', y(0)).attr('y2', y(0))
  .attr('stroke', '#888').attr('stroke-width', 1.4).attr('stroke-dasharray', '6,3')

// rms lines
const gammaT = (1 + alphaT * alphaT) / betaT
const xEdge = Math.sqrt(emittance * betaT)
const xpEdge = Math.sqrt(emittance * gammaT)

plot.append('line')
  .attr('x1', x.range()[0]).attr('x2', x.range()[1])
  .attr('y1', y(xpEdge)).attr('y2', y(xpEdge))
  .attr('stroke', 'red').attr('stroke-width', 1.2).attr('stroke-dasharray', '4,2')
plot.append('line')
  .attr('x1', x(xEdge)).attr('x2', x(xEdge))
  .attr('y1', y.range()[0]).attr('y2', y.range()[1])
  .attr('stroke', 'blue').attr('stroke-width', 1.2).attr('stroke-dasharray', '4,2')

// 4rms envelope ellipse
const angles = d3.range(0, 361, 2).map(a => a * Math.PI / 180)
const envelope = angles.map(t => [
  xEdge * Math.cos(t),
  -Math.sqrt(emittance / betaT) * (alphaT * Math.cos(t) + Math.sin(t)),
])
plot.append('path')
  .datum(envelope)
  .attr('d', d3.line().x(d => x(d[0])).y(d => y(d[1])))
  .attr('fill', 'none')
  .attr('stroke', envelopeColor)
  .attr('stroke-width', 3)

// axes, ticks pointing inward
const minus = d => d3.format('d')(d).replace('-', '\u2212')
const xAxis = svg.append('g')
  .attr('transform', `translate(0,${y.range()[0]})`)
  .call(d3.axisBottom(x).tickValues(xTicks).tickSize(-5).tickPadding(6).tickFormat(minus))
const yAxis = svg.append('g')
  .attr('transform', `translate(${x.range()[0]},0)`)
  .call(d3.axisLeft(y).tickValues(yTicks).tickSize(-5).tickPadding(7).tickFormat(minus))

;[xAxis, yAxis].forEach(ax => {
  ax.attr('font-family', serif).attr('font-size', 30)
  ax.select('.domain').remove()
  ax.selectAll('.tick line').attr('stroke', '#000').attr('stroke-width', 1.4)
  ax.selectAll('.tick text')
    .attr('fill', '#000')
    .style('font-family', serif)
    .style('font-size', '30px')
})

// frame
svg.append('rect')
  .attr('x', x.range()[0]).attr('y', y.range()[1])
  .attr('width', x.range()[1] - x.range()[0])
  .attr('height', y.range()[0] - y.range()[1])
  .attr('fill', 'none')
  .attr('stroke', '#000')
  .attr('stroke-width', 2)

// title and axis labels
svg.append('text')
  .attr('x', (x.range()[0] + x.range()[1]) / 2)
  .attr('y', 39)
  .attr('text-anchor', 'middle')
  .style('font-family', serif)
  .style('font-size', '40px')
  .text("X-X' Phase Space Plot")

svg.append('text')
  .attr('x', (x.range()[0] + x.range()[1]) / 2)
  .attr('y', 568)
  .attr('text-anchor', 'middle')
  .style('font-family', serif)
  .style('font-size', '33px')
  .text('X (position, mm)')

svg.append('text')
  .attr('transform', `translate(35,${y(0)}) rotate(-90)`)
  .attr('text-anchor', 'middle')
  .style('font-family', serif)
  .style('font-size', '34px')
  .text("X' (angle, mrad)")

// legend
const legend = svg.append('g')
const textX = 946

legend.append('circle')
  .attr('cx', 890).attr('cy', 202).attr('r', 2)
  .attr('fill', ionColor)
legend.append('text')
  .attr('x', textX).attr('y', 210)
  .style('font-family', serif).style('font-size', '30px')
  .text(legendLabels[0])

legend.append('rect')
  .attr('x', 860).attr('y', 231.5).attr('width', 61).attr('height', 21)
  .attr('fill', 'none').attr('stroke', envelopeColor).attr('stroke-width', 3)
legend.append('text')
  .attr('x', textX).attr('y', 252)
  .style('font-family', serif).style('font-size', '30px')
  .text(legendLabels[1])

// math rows: 2Y_rms = sqrt(eps beta), 2X_rms = sqrt(eps gamma)
const mathRows = [
  { base: 310, letter: 'Y', under: '\u03b5\u03b2', color: 'red' },
  { base: 362, letter: 'X', under: '\u03b5\u03b3', color: 'blue' },
]
mathRows.forEach(row => {
  const lineY = row.base - 12
  legend.append('line')
    .attr('x1', 860).attr('x2', 921)
    .attr('y1', lineY).attr('y2', lineY)
    .attr('stroke', row.color).attr('stroke-width', 1.2).attr('stroke-dasharray', '3.5,1.5')

  const t = legend.append('text')
    .attr('x', textX).attr('y', row.base)
    .style('font-family', sans).style('font-size', '28px')
  t.append('tspan').text('2')
  t.append('tspan').style('font-style', 'italic').text(row.letter)
  t.append('tspan').style('font-style', 'italic').style('font-size', '19.5px')
    .attr('dy', 5).attr('dx', 1).text('rms')
  t.append('tspan').attr('dy', -5).attr('dx', 7).text('=')
  const len = t.node().getComputedTextLength()

  // radical sign with bar
  const r0 = textX + len + 14
  const top = row.base - 33
  const under = legend.append('text')
    .attr('x', r0 + 23).attr('y', row.base)
    .style('font-family', sans).style('font-size', '28px').style('font-style', 'italic')
    .text(row.under)
  const ulen = under.node().getComputedTextLength()
  legend.append('path')
    .attr('d', `M${r0},${row.base - 10} L${r0 + 4},${row.base - 12} L${r0 + 11},${row.base + 6} L${r0 + 19},${top} L${r0 + 26 + ulen},${top}`)
    .attr('fill', 'none').attr('stroke', '#000').attr('stroke-width', 1.5)
})
</script>
</body>
</html>
